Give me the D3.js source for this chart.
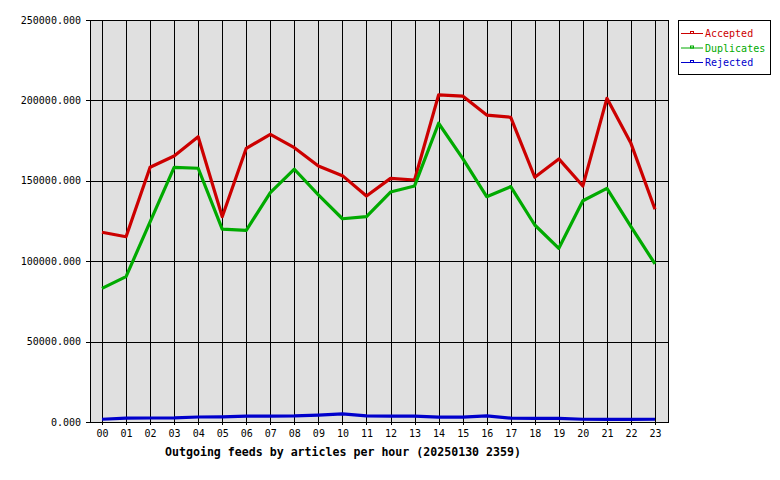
<!DOCTYPE html>
<html>
<head>
<meta charset="utf-8">
<script src="https://cdn.jsdelivr.net/npm/d3@7"></script>
<style>
  body { margin: 0; background: #fff; }
  svg text { font-family: "DejaVu Sans Mono", "Liberation Mono", monospace; }
</style>
</head>
<body>
<svg id="chart" width="780" height="480"></svg>
<script>
// hours of the day
const hours = ['00','01','02','03','04','05','06','07','08','09','10','11',
  '12','13','14','15','16','17','18','19','20','21','22','23']

// articles per hour
const accepted = [118000, 115200, 158400, 165400, 177400, 127700, 170200, 178900,
  170600, 159200, 153200, 140500, 151500, 150500, 203400, 202700,
  190900, 189500, 152200, 163600, 146800, 201300, 173300, 132300]
const duplicates = [83100, 90400, 124400, 158400, 157800, 120000, 119200, 142600,
  157200, 141200, 126400, 127700, 143000, 146800, 185800, 164000,
  140100, 146400, 122500, 108000, 137600, 145300, 121500, 98300]
const rejected = [1700, 2400, 2500, 2600, 3100, 3200, 3600, 3700, 3800, 4300, 5000, 3800,
  3700, 3600, 3000, 3000, 3800, 2400, 2300, 2300, 1700, 1600, 1600, 1700]

const yTicks = [0, 50000, 100000, 150000, 200000, 250000]

const series = [
  {name: 'Accepted', values: accepted, color: '#cc0000'},
  {name: 'Duplicates', values: duplicates, color: '#00aa00'},
  {name: 'Rejected', values: rejected, color: '#0000cc'}
]

// plot box
const plot = {left: 90, right: 668, top: 20, bottom: 422}

const svg = d3.select('#chart')

// scales
const x = d3.scalePoint().domain(hours).range([102, 655])
const y = d3.scaleLinear().domain([0, 250000]).range([plot.bottom, plot.top])

// plot background
svg.append('rect')
  .attr('x', plot.left + 0.5).attr('y', plot.top + 0.5)
  .attr('width', plot.right - plot.left).attr('height', plot.bottom - plot.top)
  .attr('fill', '#e0e0e0')

// grid
svg.append('g').selectAll('line').data(hours).join('line')
  .attr('x1', d => Math.round(x(d)) + 0.5).attr('x2', d => Math.round(x(d)) + 0.5)
  .attr('y1', plot.top).attr('y2', plot.bottom + 3)
  .attr('stroke', '#000')
svg.append('g').selectAll('line').data(yTicks).join('line')
  .attr('x1', plot.left - 4).attr('x2', plot.right)
  .attr('y1', d => Math.round(y(d)) + 0.5).attr('y2', d => Math.round(y(d)) + 0.5)
  .attr('stroke', '#000')

// y labels
svg.append('g').selectAll('text').data(yTicks).join('text')
  .attr('x', 81).attr('y', d => y(d) + 3.5)
  .attr('text-anchor', 'end')
  .attr('font-size', 10)
  .text(d => d3.format('.3f')(d))

// x labels
svg.append('g').selectAll('text').data(hours).join('text')
  .attr('x', d => x(d) + 0.5).attr('y', 437)
  .attr('text-anchor', 'middle')
  .attr('font-size', 10)
  .text(d => d)

// the lines
const line = d3.line()
  .x((d, i) => x(hours[i]))
  .y(d => y(d))

svg.append('g').selectAll('path').data(series).join('path')
  .attr('d', d => line(d.values))
  .attr('fill', 'none')
  .attr('stroke', d => d.color)
  .attr('stroke-width', 3.2)
  .attr('stroke-linejoin', 'round')

// plot border
svg.append('rect')
  .attr('x', plot.left + 0.5).attr('y', plot.top + 0.5)
  .attr('width', plot.right - plot.left).attr('height', plot.bottom - plot.top)
  .attr('fill', 'none').attr('stroke', '#000')

// title
svg.append('text')
  .attr('x', 343).attr('y', 456)
  .attr('text-anchor', 'middle')
  .attr('font-size', 11.6)
  .attr('font-weight', 'bold')
  .text('Outgoing feeds by articles per hour (20250130 2359)')

// legend
const legend = svg.append('g')
legend.append('rect')
  .attr('x', 678.5).attr('y', 20.5).attr('width', 92).attr('height', 54)
  .attr('fill', '#fff').attr('stroke', '#000')

const item = legend.selectAll('g').data(series).join('g')
  .attr('transform', (d, i) => 'translate(0,' + (33 + i * 14.5) + ')')
item.append('line')
  .attr('x1', 681).attr('x2', 703).attr('y1', 0.5).attr('y2', 0.5)
  .attr('stroke', d => d.color)
item.append('rect')
  .attr('x', 690.5).attr('y', -1.5).attr('width', 3).attr('height', 2)
  .attr('fill', 'none').attr('stroke', d => d.color)
item.append('text')
  .attr('x', 705).attr('y', 4)
  .attr('font-size', 10)
  .attr('fill', d => d.color)
  .text(d => d.name)
</script>
</body>
</html>
